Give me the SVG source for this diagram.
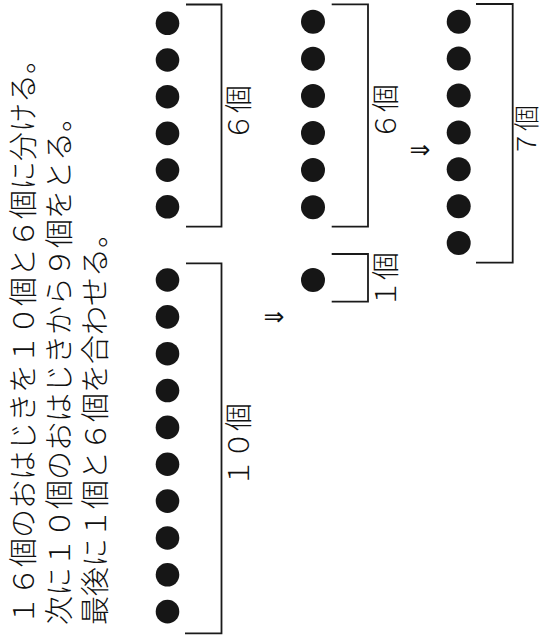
<svg xmlns="http://www.w3.org/2000/svg" width="542" height="640" viewBox="0 0 542 640">
<style>
.t{font-family:"Noto Sans CJK JP","Noto Sans CJK SC",sans-serif;font-size:29px;fill:#111;font-weight:300}
.lb{font-family:"Noto Sans CJK JP","Noto Sans CJK SC",sans-serif;font-size:28px;fill:#111;font-weight:300;text-anchor:middle}
.ar{font-family:"DejaVu Sans",sans-serif;font-size:25px;fill:#111;text-anchor:middle}
.d{fill:#161616}
.br{fill:none;stroke:#1a1a1a;stroke-width:1.8}
</style>
<rect width="542" height="640" fill="#fff"/>
<g id="text">
<text class="t" x="33.5" y="625" transform="rotate(-90 33.5 625)">１６個のおはじきを１０個と６個に分ける。</text>
<text class="t" x="69.5" y="625" transform="rotate(-90 69.5 625)">次に１０個のおはじきから９個をとる。</text>
<text class="t" x="105.5" y="625" transform="rotate(-90 105.5 625)">最後に１個と６個を合わせる。</text>
</g>
<g id="group-6a">
<circle class="d" cx="167.5" cy="23.3" r="11.8"/>
<circle class="d" cx="167.5" cy="60" r="11.8"/>
<circle class="d" cx="167.5" cy="96.7" r="11.8"/>
<circle class="d" cx="167.5" cy="133.4" r="11.8"/>
<circle class="d" cx="167.5" cy="170.1" r="11.8"/>
<circle class="d" cx="167.5" cy="206.8" r="11.8"/>
<path class="br" d="M186 4.5H221.5V226.7H186"/>
<text class="lb" x="249" y="113" transform="rotate(-90 249 113)">６個</text>
</g>
<g id="group-10">
<circle class="d" cx="167.5" cy="280" r="11.8"/>
<circle class="d" cx="167.5" cy="316.85" r="11.8"/>
<circle class="d" cx="167.5" cy="353.7" r="11.8"/>
<circle class="d" cx="167.5" cy="390.55" r="11.8"/>
<circle class="d" cx="167.5" cy="427.4" r="11.8"/>
<circle class="d" cx="167.5" cy="464.25" r="11.8"/>
<circle class="d" cx="167.5" cy="501.1" r="11.8"/>
<circle class="d" cx="167.5" cy="537.95" r="11.8"/>
<circle class="d" cx="167.5" cy="574.8" r="11.8"/>
<circle class="d" cx="167.5" cy="611.65" r="11.8"/>
<path class="br" d="M186 263.3H221.5V633.3H185"/>
<text class="lb" x="249" y="445" transform="rotate(-90 249 445)">１０個</text>
</g>
<g id="group-6b">
<circle class="d" cx="313" cy="21.7" r="12"/>
<circle class="d" cx="313" cy="58.8" r="12"/>
<circle class="d" cx="313" cy="95.9" r="12"/>
<circle class="d" cx="313" cy="133" r="12"/>
<circle class="d" cx="313" cy="170.1" r="12"/>
<circle class="d" cx="313" cy="207.2" r="12"/>
<path class="br" d="M331.7 4.3H368V226.7H331.7"/>
<text class="lb" x="396" y="112" transform="rotate(-90 396 112)">６個</text>
</g>
<g id="group-1">
<circle class="d" cx="313" cy="280" r="12"/>
<path class="br" d="M331.7 254H368V301.7H331.7"/>
<text class="lb" x="396" y="280" transform="rotate(-90 396 280)">１個</text>
</g>
<g id="group-7">
<circle class="d" cx="458.7" cy="21.7" r="12"/>
<circle class="d" cx="458.7" cy="58.6" r="12"/>
<circle class="d" cx="458.7" cy="95.5" r="12"/>
<circle class="d" cx="458.7" cy="132.4" r="12"/>
<circle class="d" cx="458.7" cy="169.3" r="12"/>
<circle class="d" cx="458.7" cy="206.2" r="12"/>
<circle class="d" cx="458.7" cy="243.1" r="12"/>
<path class="br" d="M476 4H512.7V262.7H476"/>
<text class="lb" style="font-size:26px" x="535.5" y="131" transform="rotate(-90 535.5 131)">７個</text>
</g>
<g id="connectors">
<text class="ar" x="274" y="325">⇒</text>
<text class="ar" x="420" y="158">⇒</text>
</g>
</svg>
